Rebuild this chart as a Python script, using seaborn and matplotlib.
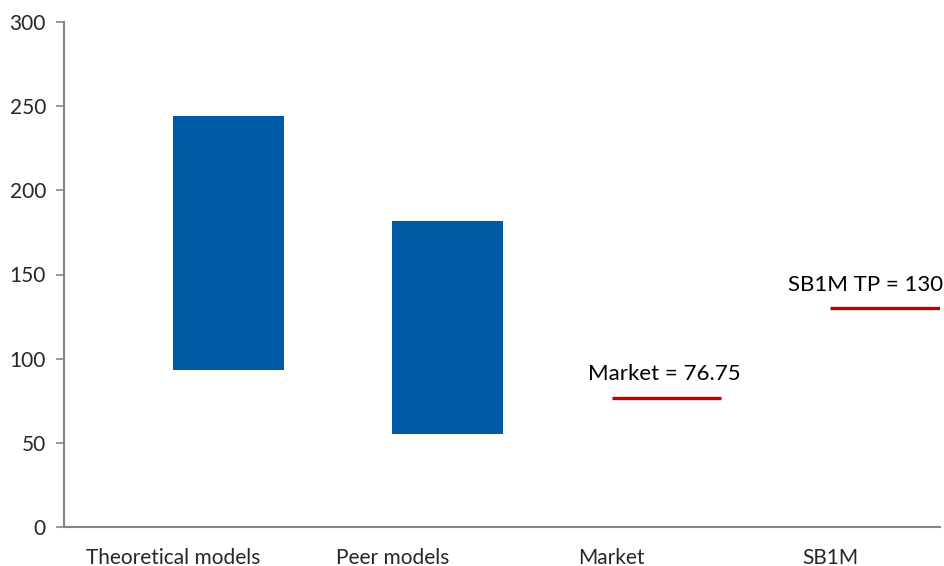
import numpy as np
import matplotlib
matplotlib.use("Agg")
import matplotlib.pyplot as plt
import seaborn as sns

categories = ["Theoretical models", "Peer models", "Market", "SB1M"]
range_low = [93, 55.5]
range_high = [244, 182]
market_value = 76.75
sb1m_tp = 130
line_labels = ["Market = 76.75", "SB1M TP = 130"]
yticks = [0, 50, 100, 150, 200, 250, 300]

sns.set_style("white")
plt.rcParams['font.family'] = ['Lato', 'DejaVu Sans']

fig = plt.figure(figsize=(9.45, 5.66), dpi=100)
ax = fig.add_axes([64/945, 39/566, 876/945, 505/566])

bar_color = "#005AA5"
red = "#C00000"
grey = "#868686"

x = np.arange(len(categories))
heights = [h - l for h, l in zip(range_high, range_low)]
ax.bar(x[:2] + 0.25, heights, bottom=range_low, width=0.505, color=bar_color, linewidth=0)

line_vals = [market_value, sb1m_tp]
has = ["center", "right"]
xoffs = [0.24, 0.515]
for i, v, lab, ha, xo in zip(x[2:], line_vals, line_labels, has, xoffs):
    ax.hlines(v, i, i + 0.5, color=red, linewidth=2.4)
    ax.text(i + xo, v + 8, lab, ha=ha, va="bottom", fontsize=16, color="black", clip_on=False)

ax.set_xlim(-0.5, 3.5)
ax.set_ylim(0, 300)
ax.set_yticks(yticks)
ax.set_yticklabels([str(t) for t in yticks], fontsize=15)
ax.set_xticks(x)
ax.set_xticklabels(categories, fontsize=15)
ax.set_xticks(np.arange(-0.5, 4.0, 1.0), minor=True)
ax.tick_params(axis="x", which="major", length=0, pad=15)
ax.tick_params(axis="x", which="minor", length=6, color=grey, width=1.2, direction="out")
ax.tick_params(axis="y", length=6, color=grey, width=1.2, direction="out", pad=7, left=True)

for s in ["top", "right"]:
    ax.spines[s].set_visible(False)
for s in ["left", "bottom"]:
    ax.spines[s].set_color(grey)
    ax.spines[s].set_linewidth(1.5)

fig.savefig("out.png", dpi=100)
